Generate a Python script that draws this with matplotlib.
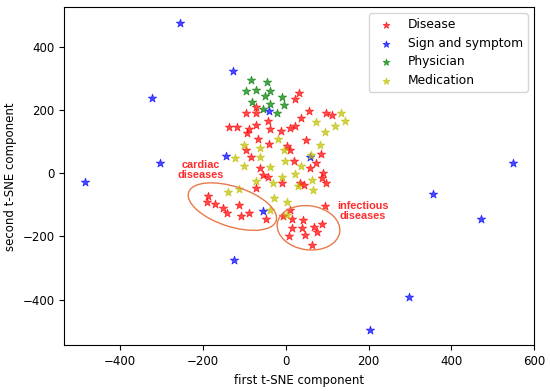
import matplotlib
matplotlib.use("Agg")
import matplotlib.pyplot as plt
import matplotlib.transforms as mtransforms
from matplotlib.patches import Ellipse

# t-SNE coordinates
disease_x = [32, 22, -71, -95, -72, 56, 38, 98, 112, -43, 23, 10, -12, -37, -137, -117, -88, -72, -93,
             -67, -40, 50, 2, 10, -95, -83, 86, 20, 58, 74, -63, -55, -43, 90, 87, 98, -10, 34, 43, -73,
             -187, -191, -171, -151, -143, -113, -109, -89, -48,
             10, -7, 15, 42, 94, 16, 40, 68, 88, 8, 46, 75, 63]
disease_y = [252, 234, 210, 189, 191, 197, 173, 189, 184, 163, 149, 142, 133, 140, 147, 147, 140, 152, 128,
             107, 92, 103, 84, 73, 73, 52, 61, 37, 16, 32, 16, -5, -13, 0, -16, -32, -32, -32, -37, -47,
             -74, -91, -98, -110, -126, -100, -137, -126, -145,
             -116, -137, -145, -147, -103, -174, -174, -172, -160, -200, -195, -187, -228]

symptom_x = [-255, -127, -324, -305, -484, -41, -145, 58, -55, -125, 357, 473, 298, 204, 549]
symptom_y = [475, 324, 238, 32, -27, 196, 55, 52, -121, -274, -65, -145, -391, -497, 32]

physician_x = [-83, -45, -95, -71, -37, -51, -10, -81, -39, -5, -55, -22]
physician_y = [294, 289, 258, 261, 258, 244, 241, 226, 219, 214, 201, 191]

medication_x = [133, 142, 74, 120, 94, -19, -100, -63, 82, -4, -123, -63, -2, 60, -101, 38, -39, 22, -8, 63,
                -31, -72, 29, 66, -139, -113, -29, 2, -39, 2]
medication_y = [191, 163, 160, 149, 131, 107, 89, 79, 89, 73, 47, 50, 37, 58, 21, 21, 19, -2, -11, -21,
                -32, -26, -42, -53, -61, -50, -79, -93, -116, -132]

plt.rcParams.update({"font.size": 8.5})
fig = plt.figure(figsize=(5.5, 3.91), dpi=100)
ax = fig.add_axes([0.117, 0.1164, 0.854, 0.865])

kw = dict(marker='*', s=40, alpha=0.7, linewidths=0.6)
ax.scatter(disease_x, disease_y, color='r', label='Disease', **kw)
ax.scatter(symptom_x, symptom_y, color='b', label='Sign and symptom', **kw)
ax.scatter(physician_x, physician_y, color='g', label='Physician', **kw)
ax.scatter(medication_x, medication_y, color='y', label='Medication', **kw)

# highlighted clusters: ellipse size in inches, centred in data coords
for cx, cy, w, h, ang in [(-129, -106, 0.92, 0.40, -18), (55, -173, 0.63, 0.44, -8)]:
    tr = fig.dpi_scale_trans + mtransforms.ScaledTranslation(cx, cy, ax.transData)
    ax.add_patch(Ellipse((0, 0), w, h, angle=ang, transform=tr, fill=False,
                         edgecolor='#e8794a', lw=1.0))
ax.text(-205, 10, "cardiac\ndiseases", color='#ff2d2d', fontsize=7.8, fontweight='bold',
        ha='center', va='center', family='Liberation Sans', linespacing=1.05)
ax.text(186, -119, "infectious\ndiseases", color='#ff2d2d', fontsize=7.8, fontweight='bold',
        ha='center', va='center', family='Liberation Sans', linespacing=1.05)

ax.set_xlim(-535, 600)
ax.set_ylim(-545, 524)
ax.set_xticks([-400, -200, 0, 200, 400, 600])
ax.set_yticks([-400, -200, 0, 200, 400])
ax.set_xlabel("first t-SNE component")
ax.set_ylabel("second t-SNE component")
ax.legend(loc='upper right', fontsize=8.8, markerscale=0.8, labelspacing=0.45)
fig.savefig("out.png", dpi=100)
